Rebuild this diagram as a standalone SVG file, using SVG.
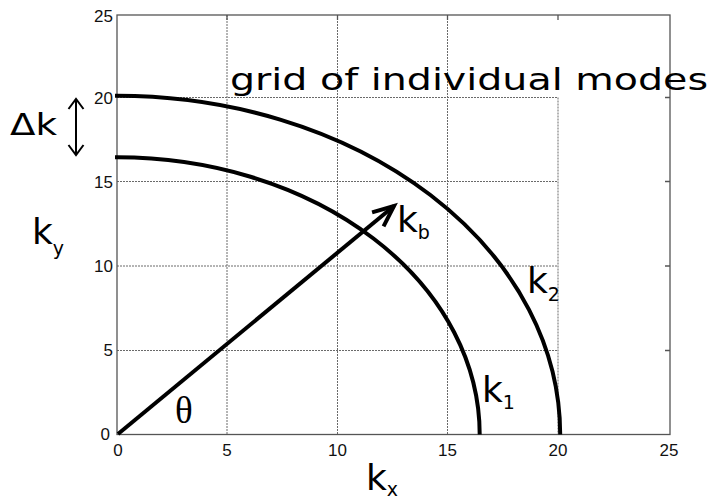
<svg xmlns="http://www.w3.org/2000/svg" width="713" height="503" viewBox="0 0 713 503">
<style>
.grid{stroke:#6a6a6a;stroke-width:1;stroke-dasharray:2 1;fill:none}
.axis{stroke:#555;stroke-width:1.3;fill:none}
.tick{font-family:"Liberation Sans",Arial,sans-serif;font-size:17px;fill:#111}
.curve{stroke:#000;stroke-width:4;fill:none}
.lbl{font-family:"DejaVu Sans","Liberation Sans",Arial,sans-serif;fill:#000}
</style>
<defs>
<marker id="bigHead" markerUnits="userSpaceOnUse" orient="auto" markerWidth="40" markerHeight="40" refX="0" refY="0" viewBox="-30 -15 40 30" overflow="visible">
<path d="M -21 -9 L 0 0 L -21 9" fill="none" stroke="#000" stroke-width="4" stroke-linejoin="miter"/>
</marker>
<marker id="smallHead" markerUnits="userSpaceOnUse" orient="auto-start-reverse" markerWidth="20" markerHeight="20" refX="0" refY="0" viewBox="-15 -10 20 20" overflow="visible">
<path d="M -10 -7.5 L 0 0 L -10 7.5" fill="none" stroke="#000" stroke-width="2"/>
</marker>
</defs>
<rect width="713" height="503" fill="#fff"/>
<g id="grid">
<line class="grid" x1="227" y1="15" x2="227" y2="434.5"/>
<line class="grid" x1="337.5" y1="15" x2="337.5" y2="434.5"/>
<line class="grid" x1="447.5" y1="15" x2="447.5" y2="434.5"/>
<line class="grid" x1="558" y1="97.5" x2="558" y2="434.5"/>
<line class="grid" x1="117" y1="97.5" x2="558" y2="97.5"/>
<line class="grid" x1="117" y1="181.5" x2="558" y2="181.5"/>
<line class="grid" x1="117" y1="266" x2="558" y2="266"/>
<line class="grid" x1="117" y1="350.5" x2="558" y2="350.5"/>
</g>
<g id="axes">
<rect class="axis" x="117" y="15" width="553" height="419.5"/>
<path class="axis" d="M227 15v5M337.5 15v5M447.5 15v5M558 15v5M670 97.5h-5M670 181.5h-5M670 266h-5M670 350.5h-5"/>
</g>
<g id="ticklabels" class="tick">
<text x="113" y="22" text-anchor="end">25</text>
<text x="113" y="104" text-anchor="end">20</text>
<text x="113" y="188" text-anchor="end">15</text>
<text x="113" y="272" text-anchor="end">10</text>
<text x="113" y="356" text-anchor="end">5</text>
<text x="110" y="440" text-anchor="end">0</text>
<text x="118" y="456" text-anchor="middle">0</text>
<text x="227" y="456" text-anchor="middle">5</text>
<text x="337.5" y="456" text-anchor="middle">10</text>
<text x="447.5" y="456" text-anchor="middle">15</text>
<text x="558" y="456" text-anchor="middle">20</text>
<text x="669" y="456" text-anchor="middle">25</text>
</g>
<g id="connectors">
<path id="k1-curve" class="curve" d="M115 157.3 L117 157.3 A362.7 277.2 0 0 1 479.7 434.5"/>
<path id="k2-curve" class="curve" d="M115 95.8 L117 95.8 A443.2 338.7 0 0 1 560.2 434.5"/>
<line id="kb-arrow" x1="118" y1="434" x2="394" y2="206" stroke="#000" stroke-width="4" marker-end="url(#bigHead)"/>
<line id="dk-arrow" x1="76" y1="99" x2="76" y2="155" stroke="#000" stroke-width="2" marker-start="url(#smallHead)" marker-end="url(#smallHead)"/>
</g>
<g id="title">
<text class="lbl" x="230" y="90" font-size="31" textLength="478" lengthAdjust="spacingAndGlyphs">grid of individual modes</text>
</g>
<g id="label-dk">
<text class="lbl" x="10" y="135" font-size="31" textLength="47" lengthAdjust="spacingAndGlyphs">Δk</text>
</g>
<g id="label-ky">
<text class="lbl" x="32" y="244" font-size="36">k<tspan font-size="19" dy="11">y</tspan></text>
</g>
<g id="label-kx">
<text class="lbl" x="366" y="490" font-size="36">k<tspan font-size="19" dy="6">x</tspan></text>
</g>
<g id="label-kb">
<text class="lbl" x="397" y="232" font-size="36">k<tspan font-size="19" dy="7">b</tspan></text>
</g>
<g id="label-k2">
<text class="lbl" x="527" y="293" font-size="36">k<tspan font-size="19" dy="8">2</tspan></text>
</g>
<g id="label-k1">
<text class="lbl" x="482" y="402" font-size="36">k<tspan font-size="19" dy="7">1</tspan></text>
</g>
<g id="label-theta">
<text x="175" y="423" font-family="Liberation Serif,'Times New Roman',serif" font-size="37" fill="#000">θ</text>
</g>
</svg>
